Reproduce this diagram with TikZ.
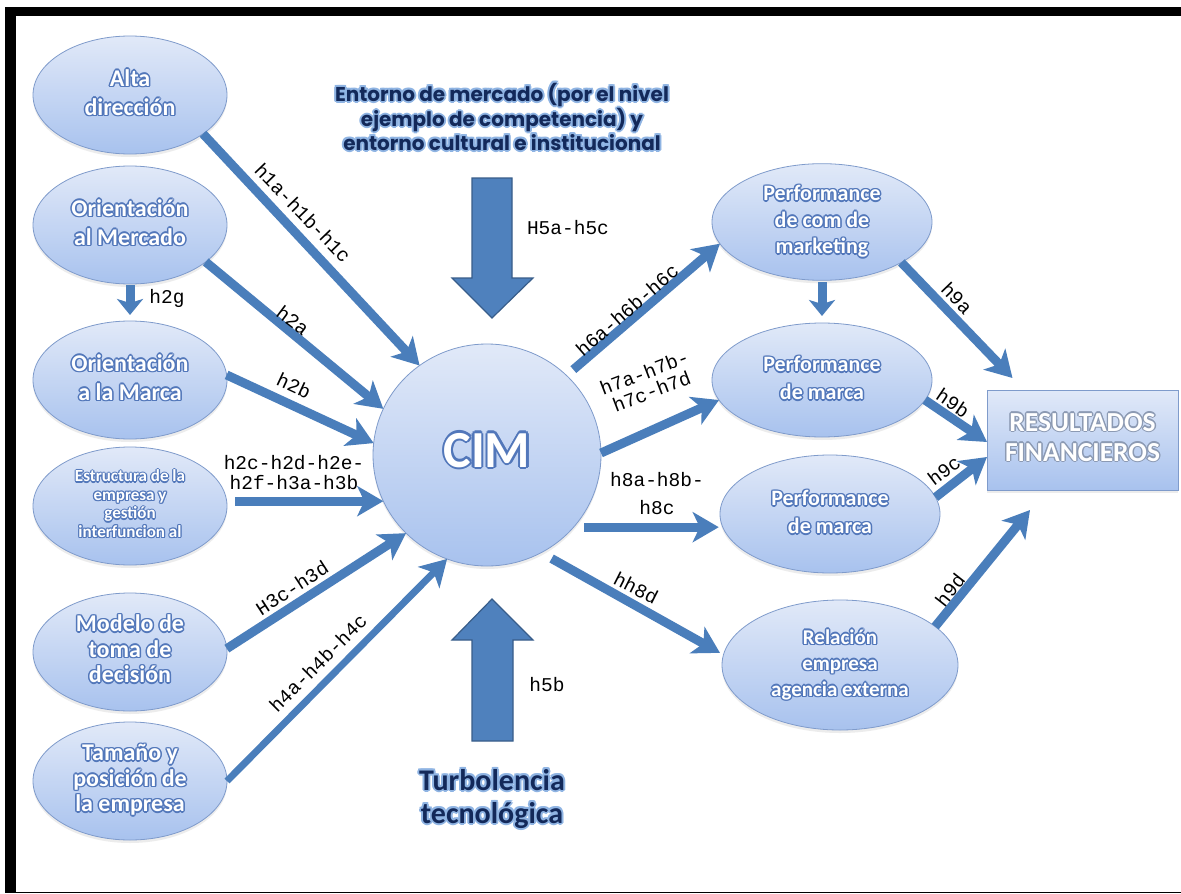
\documentclass[tikz,border=0pt]{standalone}
\usepackage{fontspec}
\setmainfont{Carlito}
\newfontfamily\monofont{Liberation Mono}
\newfontfamily\topfont{Poppins}
\usetikzlibrary{arrows.meta,shapes.geometric,shadows,calc}

\definecolor{arrowblue}{HTML}{4A7EBB}
\definecolor{blockblue}{HTML}{4F81BD}
\definecolor{blockedge}{HTML}{385D8A}
\definecolor{shadetop}{HTML}{E1E9F8}
\definecolor{shadebot}{HTML}{A8C2EE}
\definecolor{ovaledge}{HTML}{7F9BCB}
\definecolor{rimblue}{HTML}{5277BA}
\definecolor{navy}{HTML}{13295A}
\definecolor{haloblue}{HTML}{8FB4E3}
\definecolor{rimgrey}{HTML}{8C9AB3}

% text with a coloured rim: eight offset copies, then the text itself
% (plain \setbox, so the saved box carries no colour of its own)
\newbox\glowbox
\newlength\glowr
\newlength\glowd
\newcommand\gput[2]{\makebox[0pt][l]{\hspace*{#1}\raisebox{#2}{\copy\glowbox}}}
\newcommand\haloed[4]{%
  \setbox\glowbox\hbox{\begin{tabular}{@{}c@{}}#4\end{tabular}}%
  \setlength\glowr{#3}\setlength\glowd{0.707\glowr}%
  {\color{#1}\gput{\glowr}{0pt}\gput{-\glowr}{0pt}\gput{0pt}{\glowr}\gput{0pt}{-\glowr}%
   \gput{\glowd}{\glowd}\gput{-\glowd}{\glowd}\gput{\glowd}{-\glowd}\gput{-\glowd}{-\glowd}}%
  {\color{#2}\copy\glowbox}}
\newcommand\ovaltext[1]{\haloed{rimblue}{white}{1.5pt}{#1}}
\newcommand\navytext[1]{\haloed{haloblue}{navy}{2pt}{#1}}

\tikzset{
  oval/.style={ellipse, draw=ovaledge, line width=0.8pt, top color=shadetop,
    bottom color=shadebot, inner sep=0pt, outer sep=0pt,
    minimum width=194pt, minimum height=118pt,
    drop shadow={shadow xshift=0pt, shadow yshift=-3pt, opacity=.15},
    font=\bfseries\fontsize{24}{29}\selectfont},
  resbox/.style={rectangle, draw=ovaledge, line width=0.8pt, top color=shadetop,
    bottom color=shadebot, inner sep=0pt, outer sep=0pt,
    minimum width=191pt, minimum height=100pt,
    drop shadow={shadow xshift=0pt, shadow yshift=-3pt, opacity=.15},
    font=\bfseries\fontsize{27.5}{30}\selectfont},
  link/.style={draw=arrowblue, line width=9pt,
    -{Stealth[length=26pt, width=30pt, inset=7pt]}},
  shortlink/.style={draw=arrowblue, line width=9pt,
    -{Stealth[length=16pt, width=26pt, inset=4pt]}},
  blockarrow/.style={fill=blockblue, draw=blockedge, line width=1.2pt, line join=miter},
  lab/.style={font=\monofont\fontsize{19.5}{20}\selectfont, inner sep=0pt}
}

\begin{document}
\begin{tikzpicture}[x=1pt, y=-1pt]
\useasboundingbox (0,0) rectangle (1181,894);
\fill[white] (0,0) rectangle (1181,894);

% frame
\fill[black] (5,7) rectangle (1181,16);
\fill[black] (5,7) rectangle (16,893);
\fill[black] (5,891.5) rectangle (1181,893);

% environment arrows
\draw[blockarrow] (472,178) -- (512,178) -- (512,278) -- (533,278) -- (492,318)
  -- (452,278) -- (472,278) -- cycle;
\draw[blockarrow] (472,741) -- (513,741) -- (513,640) -- (533,640) -- (492,599)
  -- (452,640) -- (472,640) -- cycle;

% antecedents
\node[oval] (alta) at (130,95) {\ovaltext{Alta\\dirección}};
\node[oval] (merc) at (130,225) {\ovaltext{Orientación\\al Mercado}};
\node[oval] (marca) at (130,380) {\ovaltext{Orientación\\a la Marca}};
\node[oval, font=\bfseries\fontsize{17}{18.5}\selectfont] (estr) at (130,506)
  {\haloed{rimblue}{white}{1.2pt}{Estructura de la\\empresa y\\gestión\\interfuncion al}};
\node[oval, font=\bfseries\fontsize{24}{25.5}\selectfont] (model) at (130,652)
  {\ovaltext{Modelo de\\toma de\\decisión}};
\node[oval, font=\bfseries\fontsize{24}{25.5}\selectfont] (tam) at (130,781)
  {\ovaltext{Tamaño y\\posición de\\la empresa}};

% centre
\node[oval, minimum width=228pt, minimum height=222pt,
  font=\bfseries\fontsize{52}{60}\selectfont] (cim) at (487,455)
  {\haloed{rimblue}{white}{2.2pt}{CIM}};

% outcomes
\node[oval, minimum width=220pt, minimum height=116pt,
  font=\bfseries\fontsize{22}{26.5}\selectfont] (pcom) at (822,222)
  {\ovaltext{Performance\\de com de\\marketing}};
\node[oval, minimum width=220pt, minimum height=114pt,
  font=\bfseries\fontsize{22}{28}\selectfont] (pma) at (822,380)
  {\ovaltext{Performance\\de marca}};
\node[oval, minimum width=220pt, minimum height=118pt,
  font=\bfseries\fontsize{22}{28}\selectfont] (pmb) at (830,514)
  {\ovaltext{Performance\\de marca}};
\node[oval, minimum width=236pt, minimum height=130pt,
  font=\bfseries\fontsize{21}{26}\selectfont] (rel) at (840,665)
  {\ovaltext{Relación\\empresa\\agencia externa}};
\node[resbox] (res) at (1082.5,440) {\haloed{rimgrey}{white}{1.4pt}{RESULTADOS\\FINANCIEROS}};

% context texts
\node[font=\topfont\bfseries\fontsize{20}{23.5}\selectfont] (env) at (502,120)
  {\navytext{Entorno de mercado (por el nivel\\ejemplo de competencia) y\\entorno cultural e institucional}};
\node[font=\bfseries\fontsize{30}{33}\selectfont] (turb) at (492,800)
  {\navytext{Turbolencia\\tecnológica}};

% hypotheses towards CIM
\draw[link] (alta.332) -- (cim.127);
\draw[link] (merc.334) -- (cim.156);
\draw[shortlink, shorten <=1pt, shorten >=6pt] (merc.south) -- (marca.north);
\draw[link] (marca.3) -- (cim.174);
\draw[link] ($(estr.east |- cim.204)+(8,0)$) -- (cim.204);
\draw[link] (model.2) -- (cim.224);
\draw[link, line width=7pt] (tam.east) -- (cim.249);

% hypotheses from CIM
\draw[link, shorten <=9pt] (cim.45) -- (pcom.192);
\draw[link] (cim.1) -- (pma.191);
\draw[link, shorten >=4pt] ($(cim.east |- pmb.187)+(-17,0)$) -- (pmb.187);
\draw[link, shorten <=12pt, shorten >=4pt] (cim.299) -- (rel.175);
\draw[shortlink, shorten <=2pt, shorten >=7pt] (pcom.south) -- (pma.north);

% towards financial results
\draw[link] (pcom.333) -- ([xshift=-70pt,yshift=62pt]res.center);
\draw[link] (pma.349) -- ([yshift=-2pt]res.west);
\draw[link] (pmb.9) -- ([yshift=-17pt]res.west);
\draw[link] (rel.22) -- ([xshift=-52.5pt,yshift=-70pt]res.center);

% hypothesis labels
\node[lab, rotate=-46] (t1) at (303,213) {h1a-h1b-h1c};
\node[lab, rotate=-37] (t2a) at (293,320) {h2a};
\node[lab] (t2g) at (167,298) {h2g};
\node[lab, rotate=-25] (t2b) at (294,386) {h2b};
\node[lab, align=center] (t2c) at (294,473) {h2c-h2d-h2e-\\h2f-h3a-h3b};
\node[lab, rotate=33] (t3) at (292,588) {H3c-h3d};
\node[lab, rotate=45] (t4) at (318,663) {h4a-h4b-h4c};
\node[lab] (t5a) at (568,228) {H5a-h5c};
\node[lab] (t5b) at (547,685) {h5b};
\node[lab, rotate=41] (t6) at (627,310) {h6a-h6b-h6c};
\node[lab, rotate=21, align=center] (t7) at (648,382) {h7a-h7b-\\h7c-h7d};
\node[lab, align=center, font=\monofont\fontsize{19.5}{28}\selectfont] (t8) at (657,494) {h8a-h8b-\\h8c};
\node[lab, rotate=-27] (t8d) at (636,588) {hh8d};
\node[lab, rotate=-46] (t9a) at (957,298) {h9a};
\node[lab, rotate=-34] (t9b) at (953,403) {h9b};
\node[lab, rotate=37] (t9c) at (944,470) {h9c};
\node[lab, rotate=52] (t9d) at (950,590) {h9d};
\end{tikzpicture}
\end{document}
